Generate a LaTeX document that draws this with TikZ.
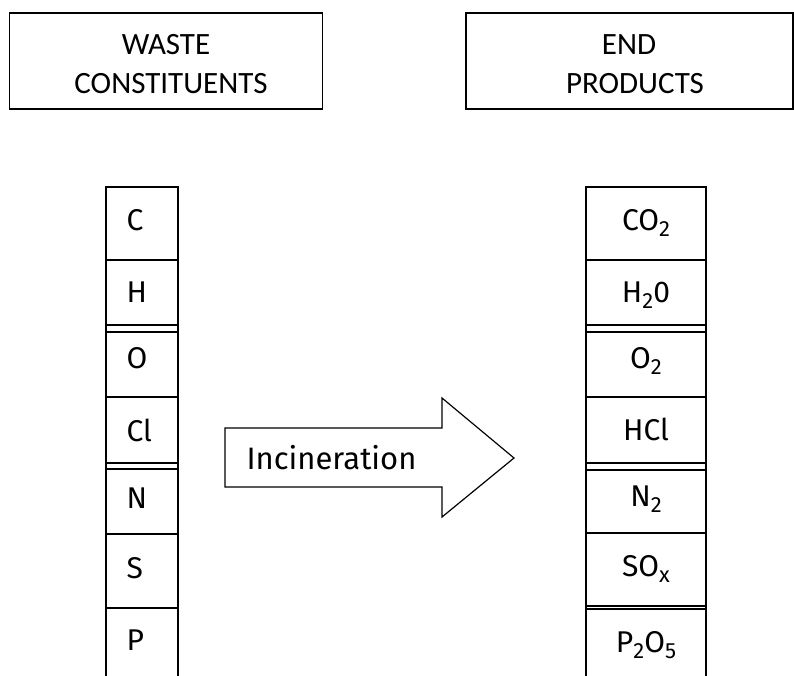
\documentclass[tikz,border=0pt]{standalone}
\usepackage{fontspec}
\setmainfont{Fira Sans}
\newfontfamily\boxfont{Carlito}
\newcommand\sbs[1]{\raisebox{-0.2em}{\fontsize{22}{22}\selectfont #1}}
\begin{document}
\begin{tikzpicture}[x=1pt,y=-1pt,
  line width=1.3pt,
  hdrbox/.style={draw, minimum width=313pt, minimum height=96pt, inner sep=0pt},
  hdrtxt/.style={font=\boxfont\fontsize{31}{37}\selectfont, anchor=base, inner sep=0pt},
  cell/.style={draw, minimum width=72pt, inner sep=0pt},
  rcell/.style={draw, minimum width=120pt, inner sep=0pt},
  ltxt/.style={font=\fontsize{30}{36}\selectfont, anchor=base west, inner sep=0pt},
  rtxt/.style={font=\fontsize{30}{36}\selectfont, anchor=base, inner sep=0pt},
  arrtxt/.style={font=\fontsize{31}{37}\selectfont, anchor=base, inner sep=0pt}]
\useasboundingbox (0,0) rectangle (794,675);
% header boxes
\node[hdrbox] (wbox) at (166,61) {};
\node[hdrtxt] (w1) at (166,54) {WASTE};
\node[hdrtxt] (w2) at (171,93) {CONSTITUENTS};
\node[hdrbox, minimum width=327pt] (ebox) at (629.5,61) {};
\node[hdrtxt] (e1) at (629,54) {END};
\node[hdrtxt] (e2) at (635,93) {PRODUCTS};
% left column
\draw (106,325) -- (106,332) (178,325) -- (178,332);
\draw (106,463) -- (106,469) (178,463) -- (178,469);
\node[cell, minimum height=73pt] (lc) at (142,223.5) {};
\node[cell, minimum height=65pt] (lh) at (142,292.5) {};
\node[cell, minimum height=65pt] (lo) at (142,364.5) {};
\node[cell, minimum height=66pt] (lcl) at (142,430) {};
\node[cell, minimum height=65pt] (ln) at (142,501.5) {};
\node[cell, minimum height=74pt] (ls) at (142,571) {};
\node[cell, minimum height=82pt] (lp) at (142,649) {};
\node[ltxt] (tc) at (126,230) {C};
\node[ltxt] (th) at (126,302) {H};
\node[ltxt] (to) at (126,368) {O};
\node[ltxt] (tcl) at (126,441) {Cl};
\node[ltxt] (tn) at (126,508) {N};
\node[ltxt] (ts) at (126,578) {S};
\node[ltxt] (tp) at (126,650) {P};
% right column
\draw (586,325) -- (586,332) (706,325) -- (706,332);
\draw (586,463) -- (586,470) (706,463) -- (706,470);
\draw (586,606) -- (586,609) (706,606) -- (706,609);
\node[rcell, minimum height=73pt] (rc) at (646,223.5) {};
\node[rcell, minimum height=65pt] (rh) at (646,292.5) {};
\node[rcell, minimum height=65pt] (ro) at (646,364.5) {};
\node[rcell, minimum height=66pt] (rcl) at (646,430) {};
\node[rcell, minimum height=63pt] (rn) at (646,501.5) {};
\node[rcell, minimum height=73pt] (rs) at (646,569.5) {};
\node[rcell, minimum height=82pt] (rp) at (646,650) {};
\node[rtxt] (uc) at (646,230) {CO\sbs{2}};
\node[rtxt] (uh) at (646,302) {H\sbs{2}0};
\node[rtxt] (uo) at (646,368) {O\sbs{2}};
\node[rtxt] (ucl) at (646,440) {HCl};
\node[rtxt] (un) at (646,506) {N\sbs{2}};
\node[rtxt] (us) at (646,576) {SO\sbs{x}};
\node[rtxt] (up) at (646,652) {P\sbs{2}O\sbs{5}};
% arrow
\draw[line width=1.2pt, line join=miter] (225,428) -- (442,428) -- (442,398) -- (514,458) -- (442,517) -- (442,487) -- (225,487) -- cycle;
\node[arrtxt] (inc) at (331.5,469) {Incineration};
\end{tikzpicture}
\end{document}
